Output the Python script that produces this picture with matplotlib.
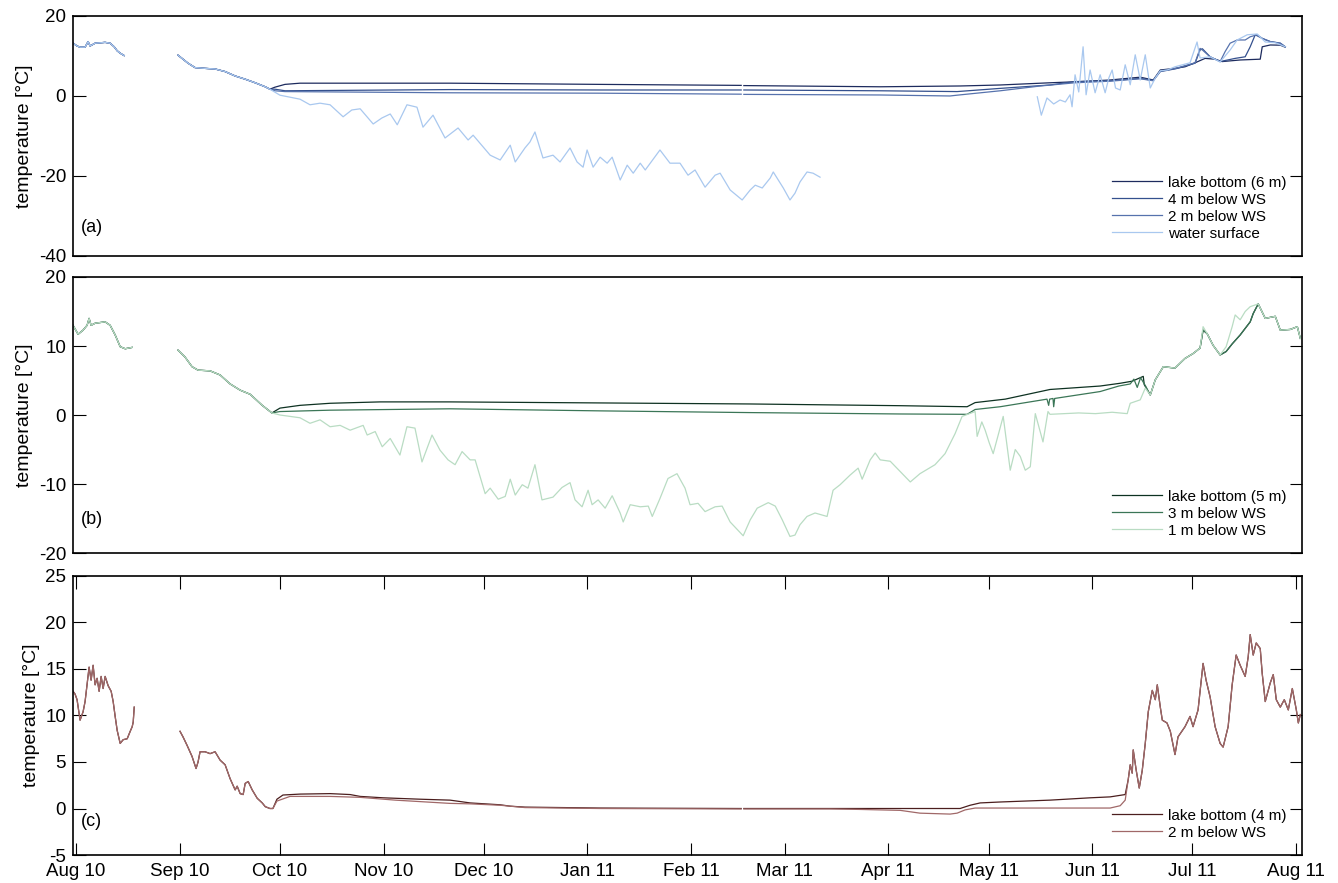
import numpy as np
import pandas as pd
import matplotlib
matplotlib.use("Agg")
import matplotlib.pyplot as plt
import matplotlib.dates as mdates

plt.rcParams['font.family'] = ['Liberation Sans', 'DejaVu Sans']
plt.rcParams['axes.unicode_minus'] = False

nan = np.nan
start = pd.Timestamp('2010-08-01')   # day 0 of all "days" lists

# ---- panel (a): lake with 6 m depth ----
# common part (all sensors read the same in late summer)
a_early_days = [-0.9, 0.3, 1.2, 2.7, 3.6, 4.2, 5.7, 7.2, 8.7, 10.2, 11.4, 12.3, 13.2, 14.4, 15.0,
                30.5, 31.7, 33.5, 35.6, 38.6, 41.6, 44.6, 47.6, 50.6, 53.6, 56.6, 58.0]
a_early_temp = [13.2, 12.5, 12.2, 12.2, 13.6, 12.5, 13.2, 13.3, 13.4, 13.2, 12.3, 11.3, 10.7, 10.1, nan,
                10.2, 9.4, 8.2, 7.1, 6.9, 6.75, 6.1, 5.0, 4.2, 3.3, 2.3, 1.7]

a_bottom_days = [59.5, 62.5, 67.0, 111.9, 156.8, 199.0, 199.4, 199.8, 240.6, 264.5, 276.5, 291.4, 300.4,
                 309.4, 318.4, 322.3, 324.4, 328.8, 331.8, 334.8, 337.8, 340.8, 342.9, 348.3, 354.3,
                 354.9, 357.3, 360.3, 361.8]
a_bottom_temp = [2.2, 2.9, 3.2, 3.2, 2.9, 2.65, nan, 2.6, 2.3, 2.5, 2.75, 3.3, 3.6,
                 4.0, 4.7, 4.0, 6.5, 6.9, 7.3, 8.3, 9.4, 9.2, 8.6, 9.0, 9.2,
                 12.3, 12.75, 12.7, 12.2]

a_4m_days = [59.5, 62.5, 111.9, 156.8, 199.0, 199.4, 199.8, 240.6, 263.6, 276.5, 291.4, 298.9, 309.4,
             318.4, 322.3, 324.4, 329.0, 334.8, 336.3, 337.0, 339.3, 342.3, 346.8, 349.8, 351.3,
             352.8, 354.9, 357.3, 360.3, 361.8]
a_4m_temp = [1.7, 1.3, 1.6, 1.5, 1.5, nan, 1.5, 1.3, 1.1, 1.9, 2.75, 3.6, 3.8,
             4.4, 3.9, 6.1, 6.8, 8.2, 11.5, 11.8, 9.8, 8.6, 9.4, 9.8, 12.3,
             15.3, 14.4, 13.6, 13.2, 12.3]

a_2m_days = [59.5, 62.5, 111.9, 156.8, 199.0, 199.4, 199.8, 240.6, 261.5, 263.6, 276.5, 288.5, 298.9,
             309.4, 318.4, 322.3, 324.4, 329.0, 334.8, 336.3, 337.0, 339.3, 342.3, 343.8, 345.3,
             347.4, 349.8, 351.3, 353.4, 354.9, 357.3, 360.3, 361.8]
a_2m_temp = [1.3, 1.1, 0.8, 0.7, 0.45, nan, 0.4, 0.25, 0.0, 0.2, 1.3, 2.5, 3.3,
             3.7, 4.3, 3.8, 6.2, 6.9, 8.3, 11.9, 11.5, 9.8, 8.6, 11.1, 13.2,
             14.0, 14.0, 14.8, 15.3, 14.4, 13.6, 13.2, 12.3]

a_surf_days = [61.0, 64.0, 67.0, 70.0, 73.0, 76.0, 79.9, 82.5, 85.0, 88.9, 91.5, 94.0, 96.1, 99.0,
               102.0, 103.8, 106.8, 110.4, 114.3, 117.3, 118.8, 123.9, 126.9, 129.9, 131.4, 134.3,
               135.8, 137.3, 139.7, 142.7, 144.8, 147.8, 149.9, 151.7, 152.9, 154.7, 156.8, 158.9,
               160.4, 162.8, 164.9, 166.7, 168.8, 170.3, 171.8, 174.7, 177.7, 180.7, 183.1, 185.2,
               188.2, 191.2, 192.7, 195.7, 199.3, 201.7, 203.2, 205.3, 207.7, 208.6, 211.6, 213.6,
               215.1, 216.6, 218.7, 220.5, 222.6, 223.0,
               287.6, 288.8, 290.5, 292.5, 294.4, 296.0, 297.4, 298.0, 298.9, 300.0, 301.3, 302.2,
               303.4, 304.9, 306.4, 307.9, 309.0, 310.0, 311.0, 312.4, 313.9, 315.4, 316.9, 318.4,
               319.9, 321.4, 322.9, 324.4, 326.5, 328.8, 331.0, 333.3, 335.4, 336.3, 339.3, 342.3,
               345.3, 347.4, 350.4, 353.4, 355.8, 358.8, 361.8]
a_surf_temp = [0.2, -0.3, -0.8, -2.2, -1.8, -2.2, -5.2, -3.5, -3.2, -7.0, -5.5, -4.5, -7.2, -2.2,
               -2.8, -7.8, -4.8, -10.5, -8.0, -11.0, -9.8, -14.8, -16.0, -12.3, -16.5, -13.0,
               -11.5, -9.0, -15.5, -14.8, -16.5, -13.0, -16.5, -17.8, -13.5, -17.8, -15.3, -16.8,
               -15.3, -21.0, -17.3, -19.3, -16.8, -18.5, -16.8, -13.5, -16.8, -16.8, -19.8, -18.5,
               -22.8, -19.8, -19.3, -23.5, -26.0, -23.5, -22.3, -23.0, -20.5, -19.0, -23.0, -26.0,
               -24.3, -21.5, -19.0, -19.3, -20.3, nan,
               -0.2, -4.8, -0.5, -2.0, -1.0, -1.5, 0.3, -2.7, 5.3, 1.0, 12.3, 0.3,
               6.5, 0.8, 5.3, 0.8, 4.5, 6.5, 2.0, 1.5, 7.8, 2.8, 10.3, 4.0,
               10.3, 2.0, 4.5, 6.3, 6.5, 7.3, 7.8, 8.3, 13.5, 9.5, 9.8, 8.5,
               11.5, 14.0, 15.3, 15.5, 13.5, 13.3, 12.3]

# ---- panel (b): lake with 5 m depth ----
b_early_days = [-0.9, 0.6, 2.1, 3.3, 3.9, 4.5, 5.7, 8.7, 10.2, 11.7, 13.2, 14.7, 16.8, 17.5,
                30.5, 32.6, 34.7, 36.5, 40.1, 43.1, 46.1, 49.1, 52.1, 55.7, 58.6]
b_early_temp = [13.0, 11.7, 12.3, 13.0, 14.0, 13.0, 13.3, 13.5, 13.0, 11.6, 9.9, 9.6, 9.8, nan,
                9.4, 8.4, 7.0, 6.5, 6.4, 5.8, 4.5, 3.6, 3.0, 1.4, 0.3]

b_bottom_days = [61.0, 67.0, 76.0, 91.0, 111.9, 156.8, 201.7, 246.6, 266.6, 269.0, 278.0, 291.4,
                 306.4, 312.4, 316.0, 319.3, 319.6]
b_bottom_temp = [1.0, 1.4, 1.7, 1.9, 1.9, 1.75, 1.6, 1.35, 1.2, 1.8, 2.3, 3.7,
                 4.2, 4.6, 4.9, 5.6, 4.4]

b_3m_days = [61.0, 76.0, 111.9, 156.8, 201.7, 246.6, 266.6, 269.0, 276.5, 290.5, 291.0, 291.3,
             292.3, 292.5, 292.8, 306.4, 312.0, 315.4, 316.5, 317.5, 318.5, 320.0]
b_3m_temp = [0.5, 0.7, 0.9, 0.6, 0.35, 0.15, 0.1, 0.8, 1.2, 2.3, 1.4, 2.3,
             2.4, 1.2, 2.4, 3.4, 4.2, 4.5, 5.2, 4.0, 5.4, 4.2]

# 3 m logger and lake bottom logger in early summer
b_deep_late_days = [321.4, 322.9, 325.3, 328.8, 331.8, 334.2, 336.3, 337.2, 338.4, 340.2, 342.3,
                    344.1, 345.9, 348.3, 351.3, 352.2, 353.7, 355.8, 358.8, 360.3, 363.3, 365.4, 366.3]
b_deep_late_temp = [2.9, 5.1, 7.0, 6.8, 8.2, 8.9, 9.7, 12.3, 11.8, 10.1, 8.7,
                    9.2, 10.3, 11.6, 13.5, 14.7, 16.1, 14.0, 14.3, 12.3, 12.4, 12.8, 11.1]

b_1m_days = [61.0, 67.0, 70.0, 73.0, 76.0, 79.0, 82.0, 85.9, 87.1, 89.5, 91.6, 94.0, 96.9, 99.0,
             101.4, 103.5, 106.5, 108.9, 111.3, 113.4, 115.5, 117.9, 119.4, 122.4, 123.9, 126.3,
             128.4, 129.9, 131.4, 133.5, 135.2, 137.3, 139.4, 142.7, 145.4, 147.8, 149.3, 151.4,
             153.2, 154.4, 156.2, 158.3, 160.4, 162.8, 163.7, 165.8, 168.8, 171.2, 172.4, 174.7,
             177.1, 179.8, 182.2, 183.7, 186.1, 188.2, 191.2, 193.3, 195.7, 199.6, 201.7, 203.8,
             207.1, 209.2, 211.3, 213.6, 215.1, 216.6, 218.7, 221.1, 224.7, 226.5, 228.6, 231.6,
             234.0, 235.2, 237.6, 239.1, 240.6, 243.6, 246.6, 249.6, 252.5, 257.0, 260.0, 263.0,
             265.1, 269.0, 269.6, 271.0, 272.0, 273.2, 274.4, 277.4, 279.5, 281.0, 282.5, 284.0,
             285.5, 287.0, 289.3, 290.8, 291.4, 296.0, 300.0, 305.0, 310.0, 314.5, 315.4, 318.4,
             319.9, 321.4, 322.9, 325.3, 328.8, 331.8, 334.2, 336.3, 337.2, 338.4, 340.2, 342.3,
             344.1, 345.9, 346.8, 348.3, 349.8, 351.3, 353.7, 355.8, 358.8, 360.3, 363.3, 365.4,
             366.3]
b_1m_temp = [0.0, -0.4, -1.2, -0.7, -1.7, -1.5, -2.2, -1.5, -2.9, -2.4, -4.6, -3.4, -5.8, -1.7,
             -1.9, -6.8, -2.9, -5.1, -6.5, -7.2, -5.3, -6.5, -6.5, -11.4, -10.6, -12.2,
             -11.8, -9.3, -11.6, -10.1, -10.6, -7.2, -12.3, -11.9, -10.5, -9.8, -12.3, -13.3,
             -10.9, -13.0, -12.3, -13.5, -11.7, -14.2, -15.5, -13.0, -13.3, -13.2, -14.7, -12.1,
             -9.2, -8.5, -10.6, -13.0, -12.8, -14.0, -13.3, -13.2, -15.5, -17.5, -15.2, -13.5,
             -12.7, -13.2, -15.2, -17.6, -17.4, -15.9, -14.7, -14.2, -14.7, -10.9, -10.1, -8.7,
             -7.7, -9.3, -6.5, -5.5, -6.5, -6.7, -8.2, -9.7, -8.5, -7.2, -5.6, -2.7,
             -0.2, 0.5, -3.1, -1.0, -2.2, -4.0, -5.6, -0.2, -8.0, -5.0, -6.0, -8.0,
             -7.5, 0.2, -3.9, 0.5, 0.1, 0.2, 0.3, 0.2, 0.4, 0.2, 1.7, 2.2,
             3.9, 2.9, 5.1, 7.0, 6.8, 8.2, 8.9, 9.7, 12.8, 11.8, 10.1, 8.7,
             9.9, 12.8, 14.5, 13.8, 15.0, 15.7, 16.1, 14.0, 14.3, 12.3, 12.4, 12.8,
             11.1]

# ---- panel (c): lake with 4 m depth ----
c_early_days = [-0.9, -0.3, 0.3, 0.9, 1.2, 2.1, 2.7, 3.3, 3.9, 4.5, 5.1, 5.7, 6.3, 6.9, 7.5, 8.1,
                8.7, 9.6, 10.5, 11.1, 11.7, 12.3, 13.2, 14.1, 15.3, 16.2, 16.8, 17.1, 17.4, 18.0,
                31.1, 32.0, 33.2, 34.7, 35.9, 36.5, 37.1, 38.6, 40.1, 41.6, 43.1, 44.6, 45.5, 46.1,
                47.6, 48.2, 49.1, 50.0, 50.6, 51.5, 52.7, 54.2, 55.7, 56.6, 58.0, 58.9]
c_early_temp = [12.6, 12.3, 11.7, 10.2, 9.5, 10.4, 11.5, 13.3, 15.2, 13.8, 15.4, 13.3, 14.0, 12.6, 14.2, 12.9,
                14.2, 13.2, 12.6, 11.5, 9.9, 8.4, 7.0, 7.4, 7.5, 8.3, 8.8, 9.3, 10.9, nan,
                8.3, 7.7, 6.8, 5.6, 4.3, 5.0, 6.1, 6.1, 5.9, 6.1, 5.2, 4.7, 3.8, 3.2,
                2.0, 2.4, 1.6, 1.5, 2.7, 2.9, 2.0, 1.1, 0.6, 0.2, 0.0, 0.0]

c_bottom_days = [60.1, 61.9, 67.0, 76.0, 82.0, 85.0, 91.9, 102.9, 111.9, 117.9, 126.9, 129.9, 134.3,
                 156.8, 199.0, 199.4, 199.8, 264.5, 267.5, 270.5, 276.5, 291.4, 303.4, 309.4, 313.9]
c_bottom_temp = [1.0, 1.45, 1.55, 1.6, 1.5, 1.3, 1.15, 1.0, 0.9, 0.6, 0.4, 0.25, 0.15,
                 0.05, 0.0, nan, 0.0, 0.0, 0.35, 0.6, 0.7, 0.9, 1.15, 1.25, 1.5]

c_2m_days = [60.1, 64.0, 76.0, 85.0, 95.5, 111.9, 117.9, 126.9, 134.3, 156.8, 199.0, 199.4, 199.8,
             225.6, 234.6, 246.6, 252.5, 261.5, 263.6, 266.0, 269.0, 309.4, 312.4, 313.9]
c_2m_temp = [0.8, 1.3, 1.3, 1.2, 0.9, 0.55, 0.5, 0.35, 0.1, 0.0, -0.05, nan, -0.05,
             -0.05, -0.1, -0.2, -0.5, -0.6, -0.5, -0.15, 0.05, 0.05, 0.3, 0.9]

# both loggers agree again once the lake warms up
c_late_days = [314.8, 315.4, 316.0, 316.3, 317.2, 318.1, 319.0, 319.9, 320.8, 322.0, 322.9, 323.5,
               324.4, 325.0, 326.4, 327.4, 328.8, 329.7, 331.8, 333.3, 334.2, 335.7, 337.2, 338.1,
               339.3, 340.8, 342.3, 343.2, 344.7, 345.9, 347.1, 348.3, 349.8, 350.7, 351.3, 352.2,
               353.1, 354.3, 354.9, 355.8, 357.3, 358.2, 359.1, 360.3, 361.5, 362.7, 363.9, 365.1,
               365.7, 366.3]
c_late_temp = [3.1, 4.7, 3.8, 6.3, 4.1, 2.2, 4.1, 7.0, 10.4, 12.7, 11.7, 13.3,
               10.9, 9.5, 9.2, 8.3, 5.8, 7.7, 8.8, 9.9, 8.8, 10.6, 15.6, 13.8,
               12.0, 8.8, 7.0, 6.6, 8.8, 13.3, 16.5, 15.4, 14.2, 16.3, 18.7, 16.5,
               17.8, 17.2, 14.5, 11.5, 13.5, 14.4, 11.7, 10.9, 11.7, 10.6, 12.9, 10.6,
               9.2, 10.1]


def to_dates(days):
    return start + pd.to_timedelta(np.array(days, dtype=float), unit='D')


def join(*parts):
    days = []
    temps = []
    for d, t in parts:
        days += list(d)
        temps += list(t)
    return to_dates(days), np.array(temps, dtype=float)


fig = plt.figure(figsize=(13.38, 8.83), dpi=100)
left, width = 0.0546, 0.9185
ax_a = fig.add_axes([left, 0.7101, width, 0.2718])
ax_b = fig.add_axes([left, 0.3737, width, 0.3126])
ax_c = fig.add_axes([left, 0.0317, width, 0.3160])

lw = 0.9

# panel a
early_a = (a_early_days, a_early_temp)
ax_a.plot(*join(early_a, (a_bottom_days, a_bottom_temp)), color='#1d2b5e', lw=lw, label='lake bottom (6 m)')
ax_a.plot(*join(early_a, (a_4m_days, a_4m_temp)), color='#34508e', lw=lw, label='4 m below WS')
ax_a.plot(*join(early_a, (a_2m_days, a_2m_temp)), color='#5672ad', lw=lw, label='2 m below WS')
ax_a.plot(*join(early_a, (a_surf_days, a_surf_temp)), color='#a9c8ef', lw=lw, label='water surface')

# panel b
early_b = (b_early_days, b_early_temp)
late_b = (b_deep_late_days, b_deep_late_temp)
ax_b.plot(*join(early_b, (b_bottom_days, b_bottom_temp), late_b), color='#0e3222', lw=lw, label='lake bottom (5 m)')
ax_b.plot(*join(early_b, (b_3m_days, b_3m_temp), late_b), color='#3b7657', lw=lw, label='3 m below WS')
ax_b.plot(*join(early_b, (b_1m_days, b_1m_temp)), color='#b9dcc3', lw=lw, label='1 m below WS')

# panel c
early_c = (c_early_days, c_early_temp)
late_c = (c_late_days, c_late_temp)
ax_c.plot(*join(early_c, (c_bottom_days, c_bottom_temp), late_c), color='#4b1e1e', lw=lw, label='lake bottom (4 m)')
ax_c.plot(*join(early_c, (c_2m_days, c_2m_temp), late_c), color='#a06868', lw=lw, label='2 m below WS')

x0 = start - pd.Timedelta(days=0.9)
x1 = start + pd.Timedelta(days=366.8)

for ax, lims, ticks, tag in [(ax_a, (-40, 20), [-40, -20, 0, 20], '(a)'),
                             (ax_b, (-20, 20), [-20, -10, 0, 10, 20], '(b)'),
                             (ax_c, (-5, 25), [-5, 0, 5, 10, 15, 20, 25], '(c)')]:
    ax.set_xlim(x0, x1)
    ax.set_ylim(*lims)
    ax.set_yticks(ticks)
    ax.set_ylabel('temperature [°C]', fontsize=14, labelpad=4)
    ax.tick_params(axis='y', direction='in', length=9, left=True, right=True, labelsize=13.5, pad=5)
    ax.xaxis.set_major_locator(mdates.MonthLocator())
    ax.xaxis.set_major_formatter(mdates.DateFormatter('%b %y'))
    for s in ax.spines.values():
        s.set_linewidth(1.2)
    ax.text(0.006, 0.12, tag, transform=ax.transAxes, fontsize=13, va='center', ha='left')
    ax.legend(loc='lower right', frameon=False, fontsize=11, handlelength=3.3,
              handletextpad=0.4, labelspacing=0.2, borderaxespad=0.6)

for ax in (ax_a, ax_b):
    ax.tick_params(axis='x', bottom=False, labelbottom=False)

ax_c.tick_params(axis='x', direction='in', length=9, top=True, bottom=True, labelsize=13.5, pad=6)

fig.savefig('out.png', dpi=100)
